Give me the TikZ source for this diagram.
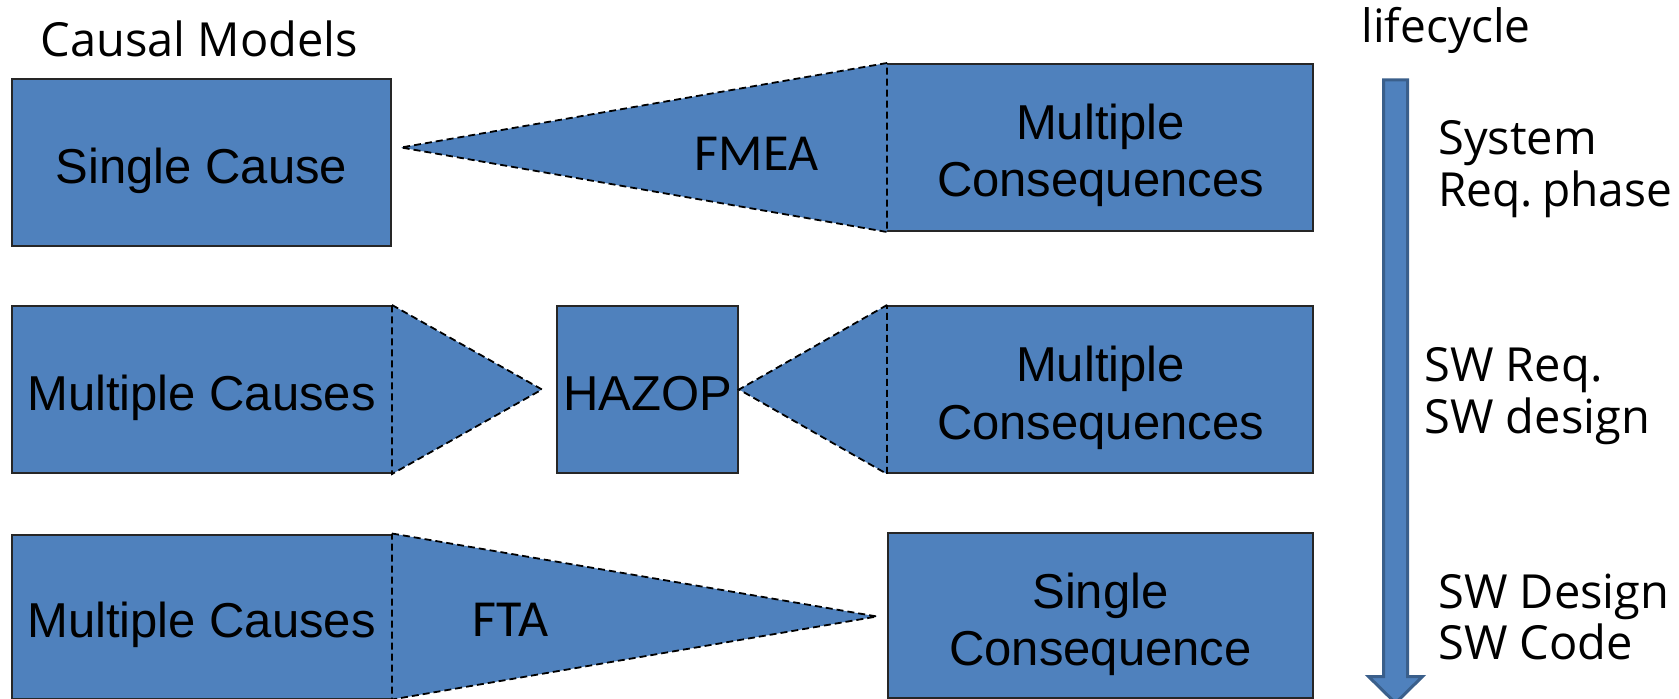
\documentclass[tikz,border=0pt]{standalone}
\usepackage{graphicx}
\usepackage{fontspec}
\setmainfont{Liberation Sans}
\newfontfamily\osans{Open Sans}
\newfontfamily\carl{Carlito}
\definecolor{boxblue}{HTML}{4F81BD}
\definecolor{arrowedge}{HTML}{3A5F8B}
\begin{document}
\begin{tikzpicture}[x=0.5pt,y=-0.5pt,
  blk/.style={draw=black!85, line width=1pt, fill=boxblue, inner sep=0pt,
    minimum height=83.5pt, font=\fontsize{24.5}{28.5}\selectfont},
  one/.style={text height=21pt, text depth=0pt},
  two/.style={text height=49.5pt, text depth=0pt},
  tri/.style={fill=boxblue, draw=black, line width=0.9pt, dash pattern=on 3.5pt off 2pt, line join=miter},
  seam/.style={fill=boxblue},
  otext/.style={inner sep=0pt, font=\osans\fontsize{23.5}{28}\selectfont},
  ctext/.style={inner sep=0pt, anchor=base, font=\carl\fontsize{26}{30}\selectfont},
  lifearrow/.style={fill=boxblue, draw=arrowedge, line width=1.5pt, line join=miter}]
\useasboundingbox (0,0) rectangle (1679,699);
\clip (0,0) rectangle (1679,699);

% boxes
\node[blk, one, minimum width=189.5pt] (L1) at (201.5,162.5) {Single Cause};
\node[blk, one, minimum width=189.5pt] (L2) at (201.5,389.5) {Multiple Causes};
\node[blk, one, minimum width=189.5pt, minimum height=82pt] (L3) at (201.5,616.5) {Multiple Causes};
\node[blk, two, minimum width=212.5pt] (R1) at (1100.5,147.5) {\begin{tabular}[b]{@{}c@{}}Multiple\\Consequences\end{tabular}};
\node[blk, two, minimum width=212.5pt] (R2) at (1100.5,389.5) {\begin{tabular}[b]{@{}c@{}}Multiple\\Consequences\end{tabular}};
\node[blk, two, minimum width=212.5pt, minimum height=82.5pt] (R3) at (1100.5,615.5) {\begin{tabular}[b]{@{}c@{}}Single\\Consequence\end{tabular}};
\node[blk, one, minimum width=90.5pt] (H) at (647.5,389.5) {HAZOP};

% triangle tips
\coordinate (t1) at (401,147.5);
\coordinate (t2) at (542,389.5);
\coordinate (t3) at (877,616.5);

% hide the box edges under the triangle bases
\fill[seam] ([xshift=-1.2pt,yshift=-1pt]R1.north west) rectangle ([xshift=1.2pt,yshift=1pt]R1.south west);
\fill[seam] ([xshift=-1.2pt,yshift=-1pt]R2.north west) rectangle ([xshift=1.2pt,yshift=1pt]R2.south west);
\fill[seam] ([xshift=-1.2pt,yshift=-1pt]L2.north east) rectangle ([xshift=1.2pt,yshift=1pt]L2.south east);
\fill[seam] ([xshift=-1.2pt,yshift=-1pt]L3.north east) rectangle ([xshift=1.2pt,yshift=1pt]L3.south east);

% triangles
\path[tri] (R1.north west) -- (t1) -- (R1.south west) -- cycle;
\path[tri] (L2.north east) -- (t2) -- (L2.south east) -- cycle;
\path[tri] (R2.north west) -- (H.east) -- (R2.south west) -- cycle;
\path[tri] (L3.north east) -- (t3) -- (L3.south east) -- cycle;

% triangle labels
\node[ctext] (fmea) at (756.5,171) {FMEA};
\node[ctext] (fta) at (510.5,636) {FTA};

% headings
\node[otext, anchor=base] (cm) at (199.5,57) {Causal Models};
\node[otext, anchor=base, font=\osans\fontsize{23}{28}\selectfont] (lc) at (1446,43) {lifecycle};

% lifecycle arrow
\path[lifearrow] (1383.5,80) -- (1407.5,80) -- (1407.5,676.5) -- (1422.5,676.5) -- (1395.5,703) -- (1368.5,676.5) -- (1383.5,676.5) -- cycle;

% phases
\node[otext, anchor=base west] (p1a) at (1438,155) {System};
\node[otext, anchor=base west] (p1b) at (1438,207) {\scalebox{0.98}[1]{Req.\hspace{0.2em}phase}};
\node[otext, anchor=base west] (p2a) at (1424,382) {SW Req.};
\node[otext, anchor=base west] (p2b) at (1424,434) {SW design};
\node[otext, anchor=base west] (p3a) at (1438,608) {SW Design};
\node[otext, anchor=base west] (p3b) at (1438,659) {SW Code};
\end{tikzpicture}
\end{document}
